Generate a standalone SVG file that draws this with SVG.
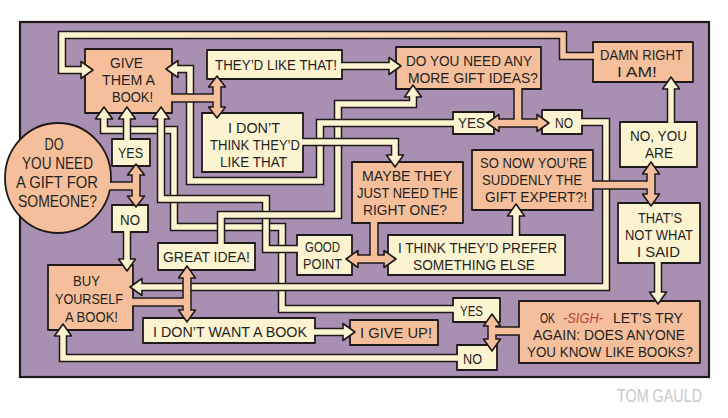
<svg xmlns="http://www.w3.org/2000/svg" width="728" height="418" viewBox="0 0 728 418">
<defs>
<linearGradient id="topband" gradientUnits="userSpaceOnUse" x1="70" y1="0" x2="590" y2="0">
<stop offset="0" stop-color="#fcf4d0"/><stop offset="0.45" stop-color="#f9dcbd"/><stop offset="1" stop-color="#f6c4a1"/>
</linearGradient>
<style>
.bx{stroke:#1e1a1a;stroke-width:1.8;stroke-linejoin:round}
.cr{fill:#fcf4d0}
.sa{fill:#f6bf9b}
text{font-family:"Liberation Sans",Arial,sans-serif;font-size:15px;fill:#241f1f;text-anchor:middle}
.big{font-size:16.5px}
.o{fill:none;stroke:#1e1a1a;stroke-width:8.5;stroke-linejoin:miter}
.ci{fill:none;stroke:#fcf4d0;stroke-width:5.5;stroke-linejoin:miter}
.so{fill:none;stroke:#1e1a1a;stroke-width:9.5}
.si{fill:none;stroke:#f6bf9b;stroke-width:6.5}
.ha{fill:#fcf4d0;stroke:#1e1a1a;stroke-width:1.6;stroke-linejoin:round}
.hs{fill:#f6bf9b;stroke:#1e1a1a;stroke-width:1.6;stroke-linejoin:round}
</style>
</defs>
<rect x="0" y="0" width="728" height="418" fill="#ffffff"/>
<rect x="20" y="22" width="689" height="355" fill="#a98fb2" stroke="#1e1a1a" stroke-width="2.2"/>

<g id="nodes">
<g id="n-bubble"><ellipse class="bx sa" cx="58" cy="178" rx="53" ry="55"/>
<text class="big" x="54" y="150" textLength="19" lengthAdjust="spacingAndGlyphs">DO</text>
<text class="big" x="57.5" y="169" textLength="71" lengthAdjust="spacingAndGlyphs">YOU NEED</text>
<text class="big" x="57" y="188" textLength="82" lengthAdjust="spacingAndGlyphs">A GIFT FOR</text>
<text class="big" x="57.5" y="207" textLength="79" lengthAdjust="spacingAndGlyphs">SOMEONE?</text></g>
<g id="n-give"><rect class="bx sa" x="85" y="49" width="87" height="64"/>
<text x="126.5" y="68" textLength="33" lengthAdjust="spacingAndGlyphs">GIVE</text>
<text x="128.5" y="85" textLength="53" lengthAdjust="spacingAndGlyphs">THEM A</text>
<text x="132.5" y="102" textLength="41" lengthAdjust="spacingAndGlyphs">BOOK!</text></g>
<g id="n-like"><rect class="bx cr" x="207" y="50" width="135" height="29"/>
<text x="276" y="70" textLength="122" lengthAdjust="spacingAndGlyphs">THEY’D LIKE THAT!</text></g>
<g id="n-more"><rect class="bx sa" x="396" y="47" width="145" height="42"/>
<text x="469" y="66" textLength="126" lengthAdjust="spacingAndGlyphs">DO YOU NEED ANY</text>
<text x="473" y="83" textLength="130" lengthAdjust="spacingAndGlyphs">MORE GIFT IDEAS?</text></g>
<g id="n-damn"><rect class="bx sa" x="593" y="42" width="100" height="40"/>
<text x="641.5" y="60" textLength="83" lengthAdjust="spacingAndGlyphs">DAMN RIGHT</text>
<text x="637" y="77" textLength="40" lengthAdjust="spacingAndGlyphs">I AM!</text></g>
<g id="n-yes1"><rect class="bx cr" x="453" y="112" width="41" height="22"/>
<text x="471.5" y="128" textLength="27" lengthAdjust="spacingAndGlyphs">YES</text></g>
<g id="n-no1"><rect class="bx cr" x="542" y="110" width="40" height="24"/>
<text x="564" y="128" textLength="18" lengthAdjust="spacingAndGlyphs">NO</text></g>
<g id="n-dont"><rect class="bx cr" x="202" y="113" width="101" height="59"/>
<text x="254" y="133" textLength="52" lengthAdjust="spacingAndGlyphs">I DON’T</text>
<text x="255" y="150" textLength="90" lengthAdjust="spacingAndGlyphs">THINK THEY’D</text>
<text x="253.5" y="167" textLength="67" lengthAdjust="spacingAndGlyphs">LIKE THAT</text></g>
<g id="n-yes0"><rect class="bx cr" x="112" y="139" width="38" height="27"/>
<text x="130.5" y="158" textLength="25" lengthAdjust="spacingAndGlyphs">YES</text></g>
<g id="n-no0"><rect class="bx cr" x="112" y="205" width="36" height="27"/>
<text x="130" y="225" textLength="20" lengthAdjust="spacingAndGlyphs">NO</text></g>
<g id="n-maybe"><rect class="bx sa" x="352" y="162" width="111" height="61"/>
<text x="407" y="181" textLength="90" lengthAdjust="spacingAndGlyphs">MAYBE THEY</text>
<text x="407.5" y="198" textLength="101" lengthAdjust="spacingAndGlyphs">JUST NEED THE</text>
<text x="405" y="215" textLength="84" lengthAdjust="spacingAndGlyphs">RIGHT ONE?</text></g>
<g id="n-good"><rect class="bx cr" x="297" y="235" width="55" height="40"/>
<text x="322.5" y="252" textLength="35" lengthAdjust="spacingAndGlyphs">GOOD</text>
<text x="322.5" y="269" textLength="39" lengthAdjust="spacingAndGlyphs">POINT</text></g>
<g id="n-prefer"><rect class="bx cr" x="388" y="235" width="177" height="40"/>
<text x="477.5" y="253" textLength="159" lengthAdjust="spacingAndGlyphs">I THINK THEY’D PREFER</text>
<text x="474" y="270" textLength="122" lengthAdjust="spacingAndGlyphs">SOMETHING ELSE</text></g>
<g id="n-expert"><rect class="bx sa" x="472" y="150" width="121" height="60"/>
<text x="533.5" y="168" textLength="107" lengthAdjust="spacingAndGlyphs">SO NOW YOU’RE</text>
<text x="532" y="185" textLength="100" lengthAdjust="spacingAndGlyphs">SUDDENLY THE</text>
<text x="536" y="202" textLength="102" lengthAdjust="spacingAndGlyphs">GIFT EXPERT?!</text></g>
<g id="n-noyou"><rect class="bx cr" x="620" y="122" width="77" height="45"/>
<text x="658.5" y="141" textLength="57" lengthAdjust="spacingAndGlyphs">NO, YOU</text>
<text x="659" y="158" textLength="28" lengthAdjust="spacingAndGlyphs">ARE</text></g>
<g id="n-notwhat"><rect class="bx cr" x="618" y="203" width="82" height="60"/>
<text x="660" y="223" textLength="44" lengthAdjust="spacingAndGlyphs">THAT’S</text>
<text x="659" y="240" textLength="68" lengthAdjust="spacingAndGlyphs">NOT WHAT</text>
<text x="658.5" y="257" textLength="43" lengthAdjust="spacingAndGlyphs">I SAID</text></g>
<g id="n-sigh"><rect class="bx sa" x="519" y="301" width="181" height="62"/>
<text x="547.5" y="323" textLength="15" lengthAdjust="spacingAndGlyphs">OK</text>
<text x="583" y="323" textLength="40" lengthAdjust="spacingAndGlyphs" style="fill:#b3463b;font-style:italic">-SIGH-</text>
<text x="648" y="323" textLength="70" lengthAdjust="spacingAndGlyphs">LET’S TRY</text>
<text x="609" y="340" textLength="152" lengthAdjust="spacingAndGlyphs">AGAIN: DOES ANYONE</text>
<text x="610" y="357" textLength="166" lengthAdjust="spacingAndGlyphs">YOU KNOW LIKE BOOKS?</text></g>
<g id="n-yes2"><rect class="bx cr" x="453" y="298" width="47" height="24"/>
<text x="471.5" y="316" textLength="23" lengthAdjust="spacingAndGlyphs">YES</text></g>
<g id="n-no2"><rect class="bx cr" x="457" y="345" width="40" height="25"/>
<text x="472.5" y="364" textLength="19" lengthAdjust="spacingAndGlyphs">NO</text></g>
<g id="n-great"><rect class="bx cr" x="158" y="243" width="97" height="27"/>
<text x="206.5" y="262" textLength="87" lengthAdjust="spacingAndGlyphs">GREAT IDEA!</text></g>
<g id="n-buy"><rect class="bx sa" x="48" y="265" width="85" height="65"/>
<text x="86.5" y="286" textLength="27" lengthAdjust="spacingAndGlyphs">BUY</text>
<text x="89" y="304" textLength="68" lengthAdjust="spacingAndGlyphs">YOURSELF</text>
<text x="91.5" y="322" textLength="53" lengthAdjust="spacingAndGlyphs">A BOOK!</text></g>
<g id="n-dontwant"><rect class="bx cr" x="143" y="318" width="172" height="25"/>
<text x="230" y="337" textLength="154" lengthAdjust="spacingAndGlyphs">I DON’T WANT A BOOK</text></g>
<g id="n-giveup"><rect class="bx sa" x="350" y="320" width="88" height="25"/>
<text x="396" y="338" textLength="72" lengthAdjust="spacingAndGlyphs">I GIVE UP!</text></g>
</g>

<g id="connectors">
<path class="o" d="M593 56 L563 56 L563 35 L62 35 L62 70 L81 70"/>
<polygon class="ha" points="93,70 81,61.5 81,78.5"/>
<path fill="none" stroke="url(#topband)" stroke-width="5.5" d="M596 56 L563 56 L563 35 L62 35 L62 70 L84 70"/>
<path class="o" d="M453 309 L282 309 L282 227 L174 227 L174 130 L104 130 L104 119"/>
<polygon class="ha" points="104,107 112.5,119 95.5,119"/>
<path class="ci" d="M455 309 L282 309 L282 227 L174 227 L174 130 L104 130 L104 116"/>
<path class="o" d="M297 249 L266 249 L266 199 L161 199 L161 119"/>
<polygon class="ha" points="161,107 169.5,119 152.5,119"/>
<path class="ci" d="M299 249 L266 249 L266 199 L161 199 L161 116"/>
<path class="o" d="M221 243 L221 215 L338 215 L338 104 L413 104 L413 97"/>
<polygon class="ha" points="413,85 421.5,97 404.5,97"/>
<path class="ci" d="M221 245 L221 215 L338 215 L338 104 L413 104 L413 94"/>
<path class="o" d="M453 123 L320 123 L320 181 L190 181 L190 69 L178 69"/>
<polygon class="ha" points="166,69 178,60.5 178,77.5"/>
<path class="ci" d="M455 123 L320 123 L320 181 L190 181 L190 69 L175 69"/>
<path class="o" d="M303 142 L395 142 L395 155"/>
<polygon class="ha" points="395,167 386.5,155 403.5,155"/>
<path class="ci" d="M301 142 L395 142 L395 158"/>
<path class="o" d="M582 122 L606 122 L606 287 L142 287"/>
<polygon class="ha" points="130,287 142,278.5 142,295.5"/>
<path class="ci" d="M580 122 L606 122 L606 287 L139 287"/>
<path class="o" d="M457 358 L63 358 L63 336"/>
<polygon class="ha" points="63,324 71.5,336 54.5,336"/>
<path class="ci" d="M459 358 L63 358 L63 333"/>
<path class="o" d="M127 139 L127 119"/>
<polygon class="ha" points="127,107 135.5,119 118.5,119"/>
<path class="ci" d="M127 141 L127 116"/>
<path class="o" d="M127 232 L127 259"/>
<polygon class="ha" points="127,271 135.5,259 118.5,259"/>
<path class="ci" d="M127 230 L127 262"/>
<path class="o" d="M342 66 L389 66"/>
<polygon class="ha" points="401,66 389,57.5 389,74.5"/>
<path class="ci" d="M340 66 L392 66"/>
<path class="o" d="M658 263 L658 292"/>
<polygon class="ha" points="658,304 666.5,292 649.5,292"/>
<path class="ci" d="M658 261 L658 295"/>
<path class="o" d="M671 122 L671 89"/>
<polygon class="ha" points="671,77 679.5,89 662.5,89"/>
<path class="ci" d="M671 124 L671 86"/>
<path class="o" d="M516 235 L516 216"/>
<polygon class="ha" points="516,204 524.5,216 507.5,216"/>
<path class="ci" d="M516 237 L516 213"/>
<path class="o" d="M315 332 L343 332"/>
<polygon class="ha" points="355,332 343,323.5 343,340.5"/>
<path class="ci" d="M313 332 L346 332"/>

<path class="so" d="M111 186 L136 186 M136 175 L136 196"/>
<polygon class="hs" points="136,164 144.5,175 127.5,175"/>
<polygon class="hs" points="136,207 144.5,196 127.5,196"/>
<path class="si" d="M105 186 L136 186 M136 172 L136 199"/>
<path class="so" d="M172 98 L217 98 M217 87 L217 107"/>
<polygon class="hs" points="217,76 225.5,87 208.5,87"/>
<polygon class="hs" points="217,118 225.5,107 208.5,107"/>
<path class="si" d="M169 98 L217 98 M217 84 L217 110"/>
<path class="so" d="M518 89 L518 123 M499 123 L537 123"/>
<polygon class="hs" points="487,123 499,114.5 499,131.5"/>
<polygon class="hs" points="549,123 537,114.5 537,131.5"/>
<path class="si" d="M518 86 L518 123 M496 123 L540 123"/>
<path class="so" d="M374 223 L374 259 M358 259 L384 259"/>
<polygon class="hs" points="346,259 358,250.5 358,267.5"/>
<polygon class="hs" points="396,259 384,250.5 384,267.5"/>
<path class="si" d="M374 220 L374 259 M355 259 L387 259"/>
<path class="so" d="M519 331 L492 331 M492 326 L492 339"/>
<polygon class="hs" points="492,314 500.5,326 483.5,326"/>
<polygon class="hs" points="492,351 500.5,339 483.5,339"/>
<path class="si" d="M522 331 L492 331 M492 323 L492 342"/>
<path class="so" d="M593 185 L651 185 M651 174 L651 194"/>
<polygon class="hs" points="651,162 659.5,174 642.5,174"/>
<polygon class="hs" points="651,206 659.5,194 642.5,194"/>
<path class="si" d="M590 185 L651 185 M651 171 L651 197"/>
<path class="so" d="M133 302 L187 302 M187 278 L187 310"/>
<polygon class="hs" points="187,266 195.5,278 178.5,278"/>
<polygon class="hs" points="187,322 195.5,310 178.5,310"/>
<path class="si" d="M130 302 L187 302 M187 275 L187 313"/>
</g>

<text x="659.5" y="402" textLength="85" lengthAdjust="spacingAndGlyphs" style="fill:#c9c9c9;font-size:18px">TOM GAULD</text>
</svg>
